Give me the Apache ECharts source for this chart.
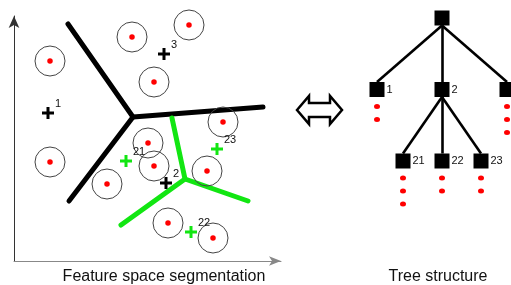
<!DOCTYPE html>
<html><head><meta charset="utf-8">
<script src="https://cdn.jsdelivr.net/npm/echarts@6/dist/echarts.min.js"></script>
<style>html,body{margin:0;padding:0;background:#fff}#c{width:511px;height:285px}</style>
</head><body><div id="c"></div>
<script>
// ---- Feature space data (feature units) ----
const region1Pts  = [[36,200],[36,99]];
const region3Pts  = [[118,224],[175,236],[140,179]];
const region21Pts = [[134,118],[140,95],[93,77]];
const region22Pts = [[154,38],[199,23]];
const region23Pts = [[209,139],[193,90]];
const blackBoundaryA = [[54,237],[119,144],[249,154]];
const blackBoundaryB = [[119,144],[55,60]];
const greenBoundaryA = [[158,143],[171,82],[234,60]];
const greenBoundaryB = [[171,82],[107,36]];
const blackCentroidLabels = ['1','3','2'];
const blackCentroids = [[34,148],[150,207],[152,78]];
const greenCentroidLabels = ['21','23','22'];
const greenCentroids = [[112,100],[203,112],[177,29]];

// ---- Tree structure (tree units) ----
const treeNodeNames = ['root','1','2','3','21','22','23'];
const treeNodeX = [0,-5,0,5,-3,0,3];
const treeNodeY = [0,5.5,5.5,5.5,11,11,11];
const treeEdges = [['root','1'],['root','2'],['root','3'],['2','21'],['2','22'],['2','23']];
const leafRegions = {'1':region1Pts,'3':region3Pts,'21':region21Pts,'22':region22Pts,'23':region23Pts};

const GREEN = '#12e612';
const allPts = [].concat(region1Pts, region3Pts, region21Pts, region22Pts, region23Pts);

const nodeIdx = n => treeNodeNames.indexOf(n);
const half = 0.58;
const edgeData = treeEdges.map(([a,b]) => {
  const i = nodeIdx(a), j = nodeIdx(b);
  return {coords: [[treeNodeX[i], treeNodeY[i] + half], [treeNodeX[j], treeNodeY[j] - half]]};
});
const nodeData = treeNodeNames.map((n,i) => ({
  value: [treeNodeX[i], treeNodeY[i]],
  label: {show: n !== 'root', formatter: n}
}));
const leafDots = [];
Object.keys(leafRegions).forEach(n => {
  const i = nodeIdx(n);
  leafRegions[n].forEach((p,k) => leafDots.push([treeNodeX[i], treeNodeY[i] + 1.3 + k]));
});

const plusPath = 'path://M3.75,0H6.25V3.75H10V6.25H6.25V10H3.75V6.25H0V3.75H3.75Z';
const hiddenAxis = {show:false};
const lineS = (data, color) => ({
  type:'line', xAxisIndex:0, yAxisIndex:0, data, symbol:'none', silent:true,
  lineStyle:{color, width:5, cap:'round'}, z:2
});

const chart = echarts.init(document.getElementById('c'), null, {renderer:'canvas'});
chart.setOption({
  animation:false,
  backgroundColor:'#fff',
  textStyle:{fontFamily:'Liberation Sans, Arial, sans-serif'},
  grid:[
    {left:14, top:16, width:267, height:245},
    {left:312, top:5, right:0, height:260}
  ],
  xAxis:[
    {type:'value', gridIndex:0, min:0, max:267, splitLine:{show:false}, axisTick:{show:false}, axisLabel:{show:false},
     axisLine:{show:true, lineStyle:{color:'#888', width:1}, symbol:['none','arrow'], symbolSize:[7,12]}},
    Object.assign({type:'value', gridIndex:1, min:-10, max:69/13}, hiddenAxis)
  ],
  yAxis:[
    {type:'value', gridIndex:0, min:0, max:245, splitLine:{show:false}, axisTick:{show:false}, axisLabel:{show:false},
     axisLine:{show:true, lineStyle:{color:'#333', width:1}, symbol:['none','arrow'], symbolSize:[8,12]}},
    Object.assign({type:'value', gridIndex:1, min:-1, max:19, inverse:true}, hiddenAxis)
  ],
  series:[
    lineS(blackBoundaryA, '#000'),
    lineS(blackBoundaryB, '#000'),
    lineS(greenBoundaryA, GREEN),
    lineS(greenBoundaryB, GREEN),
    {type:'scatter', xAxisIndex:0, yAxisIndex:0, data:allPts, symbol:'circle', symbolSize:30,
     itemStyle:{color:'rgba(0,0,0,0)', borderColor:'#444', borderWidth:1, opacity:1}, z:3},
    {type:'scatter', xAxisIndex:0, yAxisIndex:0, data:allPts, symbol:'circle', symbolSize:5.5,
     itemStyle:{color:'#ff0000', opacity:1}, z:4},
    {type:'scatter', xAxisIndex:0, yAxisIndex:0, symbol:plusPath, symbolSize:12, z:5,
     data: blackCentroids.map((p,i)=>({value:p, name:blackCentroidLabels[i]})),
     itemStyle:{color:'#000', opacity:1},
     label:{show:true, position:'right', distance:0, offset:[1,-9], formatter:'{b}', fontSize:11, color:'#111'}},
    {type:'scatter', xAxisIndex:0, yAxisIndex:0, symbol:plusPath, symbolSize:12, z:5,
     data: greenCentroids.map((p,i)=>({value:p, name:greenCentroidLabels[i]})),
     itemStyle:{color:GREEN, opacity:1},
     label:{show:true, position:'right', distance:0, offset:[1,-9], formatter:'{b}', fontSize:11, color:'#111'}},
    {type:'lines', coordinateSystem:'cartesian2d', xAxisIndex:1, yAxisIndex:1, data:edgeData,
     lineStyle:{color:'#000', width:2.6, opacity:1}, z:2, silent:true},
    {type:'scatter', xAxisIndex:1, yAxisIndex:1, data:nodeData, symbol:'rect', symbolSize:15,
     itemStyle:{color:'#000', opacity:1}, z:3,
     label:{position:'right', distance:2, fontSize:11, color:'#111'}},
    {type:'scatter', xAxisIndex:1, yAxisIndex:1, data:leafDots, symbol:'circle', symbolSize:[6,5],
     itemStyle:{color:'#ff0000', opacity:1}, z:3}
  ],
  graphic:[
    {type:'polygon', shape:{points:[[297,110],[309,96],[309,103],[330,103],[330,96],[342,110],[330,124],[330,117],[309,117],[309,124]]},
     style:{fill:'#fff', stroke:'#000', lineWidth:2.5, lineJoin:'miter'}},
    {type:'text', x:164, y:277, style:{text:'Feature space segmentation', fill:'#111', font:'16px "Liberation Sans", Arial, sans-serif', textAlign:'center', textVerticalAlign:'middle'}},
    {type:'text', x:438, y:277, style:{text:'Tree structure', fill:'#111', font:'16px "Liberation Sans", Arial, sans-serif', textAlign:'center', textVerticalAlign:'middle'}}
  ]
});
</script>
</body></html>
